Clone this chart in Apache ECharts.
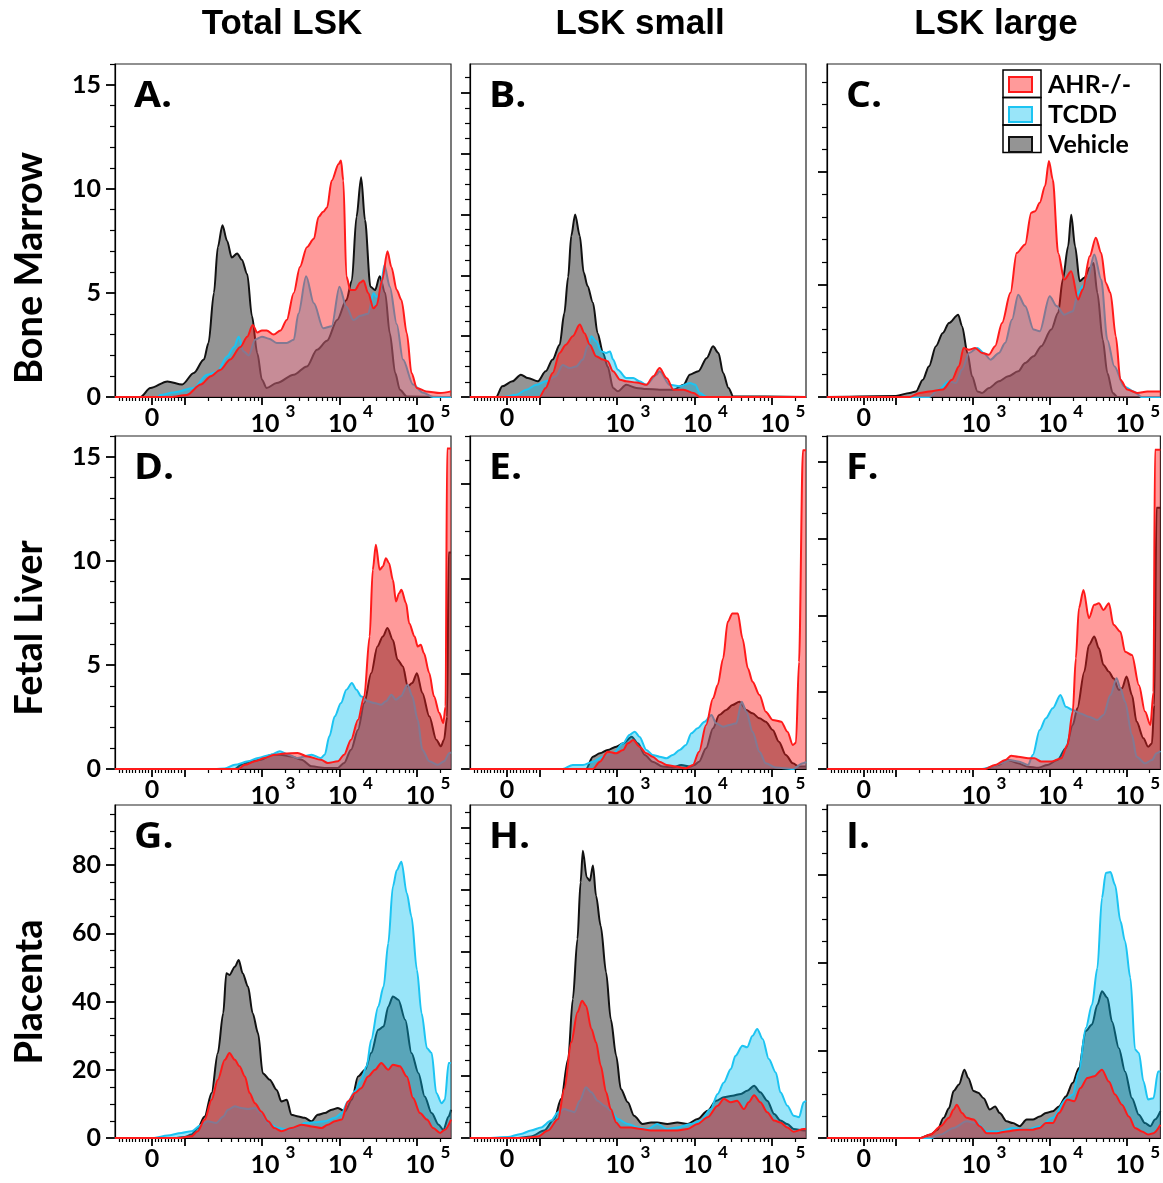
<!DOCTYPE html>
<html><head><meta charset="utf-8">
<script src="https://cdn.jsdelivr.net/npm/echarts@6/dist/echarts.min.js"></script>
<style>html,body{margin:0;padding:0;background:#fff}#c{width:1163px;height:1183px}</style>
</head><body><div id="c"></div>
<script>
// ---------------- DATA (x in logicle display units: 3 = 10^3, 4 = 10^4, 5 = 10^5) ----------------
const colTitles = ['Total LSK', 'LSK small', 'LSK large'];
const rowTitles = ['Bone Marrow', 'Fetal Liver', 'Placenta'];
const panelLetters = ['A.', 'B.', 'C.', 'D.', 'E.', 'F.', 'G.', 'H.', 'I.'];
const seriesNames = ['Vehicle', 'TCDD', 'AHR-/-'];
const legendOrder = ['AHR-/-', 'TCDD', 'Vehicle'];

// x tick values (fluorescence intensity)
const xMajorTicks = [0, 100, 1000, 10000, 100000];
const xMinorTicks = [-100,-90,-80,-70,-60,-50,-40,-30,-20,-10,10,20,30,40,50,60,70,80,90,
  200,300,400,500,600,700,800,900,2000,3000,4000,5000,6000,7000,8000,9000,
  20000,30000,40000,50000,60000,70000,80000,90000,200000];
const xLabelTicks = [0, 1000, 10000, 100000];

// y scales per panel (A..I)
const yMaxes = [16, 21.9, 14.8, 16, 14.0, 13.0, 97.6, 107.2, 76.0];
const yMajorSteps = [5, 4, 5, 5, 4, 3, 20, 20, 20];
const yMinorSteps = [1, 1, 1, 1, 1, 1, 5, 5, 5];
const yLabelled = [true, false, false, true, false, false, true, false, false];

// Panel A
const vehicleA = [[1.10,0],[1.43,0],[1.56,0.43],[1.78,0.75],[1.97,0.6],[2.12,1.15],[2.25,1.8],[2.31,2.6],[2.38,5.0],[2.43,7.2],[2.49,8.25],[2.55,7.5],[2.61,6.7],[2.68,6.9],[2.74,6.6],[2.81,5.9],[2.87,3.9],[2.94,2.1],[3.0,0.83],[3.06,0.43],[3.19,0.67],[3.41,1.07],[3.58,1.47],[3.71,2.27],[3.84,2.7],[3.97,3.7],[4.09,4.66],[4.16,5.6],[4.22,8.65],[4.28,10.56],[4.33,8.5],[4.40,5.3],[4.46,5.14],[4.52,5.8],[4.59,5.0],[4.65,3.06],[4.72,1.15],[4.78,0.35],[4.87,0.03],[5.44,0]];
const tcddA = [[1.10,0],[1.65,0],[1.69,0.1],[1.86,0.22],[2.12,0.43],[2.29,1.07],[2.42,1.2],[2.55,1.95],[2.64,2.4],[2.70,2.9],[2.76,2.2],[2.83,2.0],[2.91,2.75],[3.0,2.9],[3.09,2.8],[3.19,2.6],[3.32,2.6],[3.41,2.75],[3.47,4.0],[3.57,5.8],[3.67,4.5],[3.79,3.3],[3.90,3.4],[4.0,5.3],[4.09,4.34],[4.18,3.7],[4.27,3.9],[4.37,4.0],[4.44,5.0],[4.48,4.8],[4.52,4.9],[4.58,6.33],[4.65,5.3],[4.74,3.5],[4.82,1.8],[4.95,0.6],[5.08,0.2],[5.21,0],[5.44,0]];
const ahrA = [[1.10,0],[1.82,0],[2.03,0.1],[2.21,0.6],[2.34,1.0],[2.46,1.3],[2.59,1.8],[2.72,2.4],[2.81,2.9],[2.88,3.46],[2.94,3.1],[3.0,3.2],[3.06,3.2],[3.15,3.0],[3.24,3.2],[3.32,3.7],[3.41,5.0],[3.49,6.25],[3.58,7.2],[3.67,7.6],[3.73,8.65],[3.79,8.9],[3.84,9.1],[3.90,10.4],[3.99,11.2],[4.02,11.36],[4.05,10.4],[4.09,5.8],[4.14,5.14],[4.20,5.14],[4.27,5.5],[4.31,5.6],[4.37,5.0],[4.44,4.26],[4.48,4.4],[4.55,5.6],[4.62,7.0],[4.67,6.25],[4.74,5.14],[4.80,4.66],[4.87,3.06],[4.93,1.15],[5.0,0.43],[5.12,0.27],[5.30,0.19],[5.44,0.27]];

// Panel B
const vehicleB = [[1.10,0],[1.44,0],[1.52,0.7],[1.65,1.03],[1.76,1.47],[1.85,1.25],[1.98,1.03],[2.08,1.69],[2.17,2.46],[2.26,3.44],[2.32,5.5],[2.37,7.9],[2.41,10.6],[2.46,12.0],[2.52,10.6],[2.57,8.2],[2.62,7.3],[2.69,6.2],[2.75,4.2],[2.82,2.9],[2.88,2.0],[2.95,0.6],[3.01,0.37],[3.12,0.8],[3.25,0.6],[3.38,0.53],[3.55,0.48],[3.73,0.48],[3.86,0.8],[3.94,1.47],[4.05,1.69],[4.16,2.57],[4.24,3.33],[4.31,2.9],[4.37,1.58],[4.44,0.6],[4.50,0.04],[5.44,0]];
const tcddB = [[1.10,0],[1.52,0],[1.70,0.15],[1.83,0.48],[1.96,0.8],[2.08,1.03],[2.21,1.36],[2.30,2.1],[2.39,1.9],[2.47,2.0],[2.56,2.46],[2.62,3.33],[2.67,4.0],[2.73,3.66],[2.80,3.0],[2.86,2.9],[2.91,3.0],[2.95,2.46],[3.01,1.8],[3.12,1.25],[3.21,1.25],[3.29,1.03],[3.38,0.8],[3.51,1.47],[3.55,1.7],[3.68,0.8],[3.81,0.7],[3.94,0.92],[4.01,0.8],[4.07,0.26],[4.16,0],[5.44,0]];
const ahrB = [[1.10,0],[2.0,0],[2.08,0.6],[2.17,1.58],[2.26,2.9],[2.34,3.44],[2.43,4.0],[2.52,4.76],[2.58,4.2],[2.65,3.44],[2.73,2.68],[2.82,2.46],[2.88,2.35],[2.95,1.69],[3.04,1.14],[3.12,1.03],[3.25,0.96],[3.38,0.8],[3.47,1.36],[3.55,1.9],[3.64,1.25],[3.73,0.48],[3.86,0.48],[3.99,0.26],[4.07,0],[5.44,0]];

// Panel C
const vehicleC = [[1.10,0],[2.0,0.05],[2.18,0.18],[2.26,0.25],[2.35,0.77],[2.43,1.37],[2.52,2.26],[2.61,2.85],[2.69,3.29],[2.81,3.66],[2.86,3.15],[2.93,1.96],[2.99,0.92],[3.06,0.25],[3.12,0.18],[3.21,0.4],[3.34,0.7],[3.46,0.92],[3.59,1.14],[3.68,1.51],[3.79,1.81],[3.89,2.26],[4.02,3.0],[4.11,3.74],[4.17,5.22],[4.24,6.7],[4.28,8.1],[4.33,6.7],[4.39,5.15],[4.45,5.3],[4.52,5.74],[4.57,5.96],[4.62,4.63],[4.69,2.55],[4.75,1.07],[4.82,0.18],[4.88,0],[5.44,0]];
const tcddC = [[1.10,0],[2.43,0],[2.56,0.33],[2.69,0.7],[2.78,0.62],[2.86,1.22],[2.95,1.96],[3.06,2.18],[3.14,1.96],[3.23,1.66],[3.34,1.96],[3.42,2.4],[3.51,3.44],[3.59,4.55],[3.68,4.04],[3.79,3.0],[3.87,2.92],[4.0,4.48],[4.09,4.04],[4.19,3.66],[4.30,3.81],[4.37,4.63],[4.43,4.93],[4.49,5.22],[4.58,6.33],[4.67,5.22],[4.75,2.55],[4.84,1.37],[4.97,0.47],[5.09,0.25],[5.20,0],[5.44,0]];
const ahrC = [[1.10,0],[2.18,0],[2.31,0.18],[2.43,0.25],[2.61,0.33],[2.73,0.77],[2.82,1.37],[2.88,2.18],[2.95,2.1],[3.03,2.18],[3.12,1.96],[3.21,1.88],[3.29,2.26],[3.38,3.29],[3.49,4.63],[3.57,6.4],[3.68,6.78],[3.76,8.19],[3.81,8.26],[3.87,8.63],[3.94,9.38],[3.99,10.49],[4.04,9.67],[4.11,6.4],[4.19,5.22],[4.28,5.59],[4.37,4.33],[4.43,4.78],[4.52,6.26],[4.60,7.08],[4.67,6.4],[4.73,5.07],[4.79,4.63],[4.86,2.7],[4.92,0.77],[5.01,0.33],[5.14,0.18],[5.27,0.25],[5.44,0.25]];

// Panel D
const vehicleD = [[1.10,0],[2.65,0],[2.73,0.2],[2.86,0.37],[2.99,0.45],[3.12,0.69],[3.23,0.69],[3.38,0.6],[3.51,0.45],[3.64,0.13],[3.81,0.05],[3.98,0.05],[4.06,0.29],[4.15,0.93],[4.24,1.89],[4.32,3.17],[4.41,4.6],[4.49,5.89],[4.56,6.37],[4.62,6.77],[4.69,6.2],[4.75,5.25],[4.82,4.93],[4.88,3.97],[4.94,4.13],[5.0,4.6],[5.07,3.65],[5.16,2.53],[5.25,1.41],[5.31,1.09],[5.35,1.41],[5.39,2.5],[5.41,10.4],[5.44,10.4]];
const tcddD = [[1.10,0],[2.39,0],[2.52,0.02],[2.65,0.2],[2.82,0.37],[2.95,0.53],[3.12,0.69],[3.23,0.85],[3.34,0.69],[3.46,0.53],[3.64,0.69],[3.76,0.53],[3.81,0.69],[3.87,1.57],[3.94,2.53],[4.02,3.17],[4.09,3.81],[4.16,4.13],[4.22,3.81],[4.28,3.49],[4.37,3.25],[4.45,3.17],[4.54,3.09],[4.60,3.25],[4.67,3.57],[4.73,3.33],[4.79,3.49],[4.88,4.05],[4.94,3.49],[5.01,2.37],[5.07,0.93],[5.16,0.37],[5.27,0.2],[5.35,0.37],[5.42,0.77],[5.44,0.8]];
const ahrD = [[1.10,0],[2.69,0],[2.78,0.2],[2.91,0.37],[3.03,0.53],[3.16,0.69],[3.29,0.74],[3.46,0.77],[3.59,0.6],[3.76,0.45],[3.85,0.29],[3.98,0.37],[4.06,0.69],[4.15,1.41],[4.24,2.37],[4.32,3.49],[4.39,6.37],[4.43,9.57],[4.47,10.77],[4.52,9.57],[4.56,9.73],[4.60,10.13],[4.64,9.89],[4.69,9.09],[4.73,8.05],[4.77,8.45],[4.80,8.61],[4.86,7.97],[4.90,7.0],[4.97,6.37],[5.01,5.89],[5.05,5.97],[5.09,5.57],[5.16,4.6],[5.22,3.49],[5.29,2.69],[5.34,2.21],[5.37,3.0],[5.39,15.4],[5.44,15.4]];

// Panel E
const vehicleE = [[1.10,0],[2.60,0],[2.69,0.52],[2.78,0.66],[2.88,0.8],[2.99,0.94],[3.08,1.08],[3.19,1.36],[3.27,1.08],[3.36,0.59],[3.46,0.31],[3.59,0.1],[3.72,0.06],[3.83,0.17],[3.94,0.1],[4.0,0.17],[4.06,0.31],[4.15,0.87],[4.24,1.71],[4.32,2.27],[4.41,2.48],[4.49,2.69],[4.58,2.83],[4.67,2.48],[4.75,2.34],[4.84,2.13],[4.92,1.99],[5.01,1.64],[5.09,1.15],[5.18,0.59],[5.27,0.24],[5.35,0.1],[5.44,0.1]];
const tcddE = [[1.10,0],[2.30,0],[2.43,0.17],[2.56,0.17],[2.69,0.31],[2.82,0.52],[2.95,0.66],[3.08,1.08],[3.16,1.43],[3.23,1.57],[3.29,1.36],[3.38,0.8],[3.46,0.59],[3.55,0.52],[3.64,0.45],[3.72,0.59],[3.81,0.8],[3.89,1.01],[3.96,1.5],[4.04,1.71],[4.13,1.99],[4.22,2.27],[4.28,1.92],[4.37,1.78],[4.45,1.85],[4.54,1.92],[4.61,2.83],[4.67,2.41],[4.75,1.57],[4.84,0.73],[4.92,0.24],[5.05,0.06],[5.27,0],[5.40,0.24],[5.44,0.3]];
const ahrE = [[1.10,0],[2.69,0],[2.78,0.31],[2.88,0.73],[2.99,0.66],[3.08,0.8],[3.14,1.08],[3.21,1.22],[3.29,0.94],[3.38,0.66],[3.46,0.52],[3.55,0.31],[3.64,0.17],[3.76,0.1],[3.89,0.03],[3.98,0.17],[4.06,0.73],[4.15,1.85],[4.24,2.97],[4.30,3.53],[4.37,4.65],[4.43,6.19],[4.49,6.54],[4.56,6.54],[4.62,5.49],[4.69,4.23],[4.75,3.67],[4.84,3.11],[4.92,2.41],[5.01,2.06],[5.12,1.99],[5.20,1.57],[5.27,1.01],[5.31,1.1],[5.35,4.5],[5.40,13.4],[5.44,13.4]];

// Panel F
const vehicleF = [[1.10,0],[3.16,0],[3.33,0.16],[3.46,0.35],[3.59,0.22],[3.72,0.09],[3.85,0.05],[3.97,0.16],[4.10,0.35],[4.21,0.81],[4.30,1.72],[4.36,2.37],[4.45,3.8],[4.51,4.84],[4.58,5.17],[4.64,4.71],[4.70,4.06],[4.77,3.8],[4.83,3.54],[4.90,3.09],[4.94,3.15],[5.0,3.61],[5.07,2.89],[5.13,1.85],[5.22,1.2],[5.28,0.87],[5.33,1.0],[5.36,2.5],[5.39,10.2],[5.44,10.2]];
const tcddF = [[1.10,0],[3.12,0],[3.25,0.09],[3.37,0.22],[3.48,0.35],[3.59,0.29],[3.72,0.16],[3.78,0.55],[3.87,1.52],[3.95,1.98],[4.04,2.37],[4.14,2.89],[4.21,2.43],[4.30,2.3],[4.40,2.17],[4.51,2.04],[4.62,1.91],[4.70,2.11],[4.79,2.89],[4.87,3.54],[4.92,3.15],[4.98,2.63],[5.07,1.33],[5.13,0.48],[5.24,0.22],[5.33,0.35],[5.39,0.61],[5.44,0.7]];
const ahrF = [[1.10,0],[3.16,0],[3.29,0.16],[3.42,0.35],[3.50,0.52],[3.59,0.48],[3.72,0.42],[3.80,0.42],[3.89,0.29],[4.02,0.29],[4.15,0.42],[4.23,0.94],[4.30,2.24],[4.34,4.32],[4.38,6.28],[4.44,6.99],[4.51,5.89],[4.58,6.41],[4.64,6.47],[4.70,6.21],[4.77,6.47],[4.83,5.63],[4.92,5.36],[4.98,4.58],[5.07,4.45],[5.16,3.28],[5.24,2.24],[5.31,1.72],[5.35,3.0],[5.37,12.46],[5.44,12.46]];

// Panel G
const vehicleG = [[1.10,0],[1.87,0],[2.0,0.3],[2.09,1.0],[2.17,2.9],[2.26,6.3],[2.35,13.2],[2.43,24.9],[2.50,36.6],[2.54,48.3],[2.58,47.8],[2.65,50.2],[2.70,52.2],[2.75,48.3],[2.82,44.4],[2.88,36.6],[2.95,30.7],[3.01,19.0],[3.10,17.1],[3.19,14.1],[3.25,10.7],[3.32,11.2],[3.38,6.8],[3.47,6.3],[3.55,5.9],[3.64,4.9],[3.72,6.8],[3.81,7.3],[3.90,8.3],[3.98,8.8],[4.07,7.8],[4.16,11.2],[4.24,18.0],[4.33,20.0],[4.41,24.9],[4.50,31.7],[4.57,32.7],[4.63,38.5],[4.69,41.5],[4.76,40.5],[4.85,34.6],[4.93,24.9],[5.02,19.0],[5.10,12.2],[5.19,7.3],[5.28,3.9],[5.34,2.4],[5.41,6.3],[5.44,8.3]];
const tcddG = [[1.10,0],[1.61,0],[1.78,0.7],[1.96,1.5],[2.09,2.0],[2.22,3.9],[2.30,4.9],[2.41,4.4],[2.50,6.3],[2.56,8.3],[2.65,9.3],[2.73,8.8],[2.82,8.5],[2.91,8.8],[2.99,7.3],[3.08,4.4],[3.21,2.9],[3.34,2.4],[3.47,3.4],[3.55,4.4],[3.68,4.6],[3.81,4.9],[3.94,5.9],[4.03,7.3],[4.11,10.7],[4.20,13.7],[4.28,17.1],[4.35,21.0],[4.41,28.8],[4.50,38.5],[4.57,44.4],[4.63,57.1],[4.69,73.7],[4.74,78.5],[4.80,81.0],[4.87,71.7],[4.93,64.9],[5.0,49.3],[5.06,36.6],[5.13,26.3],[5.19,24.9],[5.25,13.2],[5.32,10.2],[5.36,11.2],[5.41,22.0],[5.44,22.0]];
const ahrG = [[1.10,0],[1.91,0],[2.09,0.5],[2.17,2.0],[2.26,5.4],[2.35,11.2],[2.43,17.1],[2.52,22.9],[2.58,24.9],[2.65,22.9],[2.71,21.0],[2.78,18.0],[2.84,13.2],[2.91,10.2],[2.99,7.8],[3.08,4.9],[3.16,2.9],[3.25,2.0],[3.38,2.9],[3.51,3.9],[3.64,3.4],[3.77,2.9],[3.85,3.9],[3.94,4.9],[4.03,5.4],[4.11,10.7],[4.20,13.2],[4.28,14.6],[4.37,18.0],[4.46,20.0],[4.54,22.0],[4.63,20.0],[4.69,21.5],[4.78,21.0],[4.87,18.0],[4.95,11.7],[5.04,7.3],[5.13,5.4],[5.21,2.9],[5.30,1.5],[5.36,2.4],[5.44,5.4]];

// Panel H
const vehicleH = [[1.10,0],[1.72,0],[1.89,0.5],[2.06,2.4],[2.19,6.1],[2.28,12.6],[2.37,25.4],[2.43,44.7],[2.49,64.1],[2.53,82.3],[2.56,92.5],[2.61,83.9],[2.65,82.8],[2.69,87.7],[2.73,78.0],[2.79,68.3],[2.86,53.3],[2.92,38.3],[2.99,26.5],[3.05,15.8],[3.14,11.5],[3.22,7.2],[3.33,4.5],[3.44,5.0],[3.52,5.0],[3.65,4.5],[3.78,5.0],[3.91,4.5],[4.04,6.1],[4.17,8.8],[4.28,12.0],[4.38,13.1],[4.49,13.6],[4.60,14.2],[4.68,15.2],[4.77,16.8],[4.85,14.7],[4.94,12.0],[5.03,7.7],[5.11,5.6],[5.20,4.5],[5.28,2.9],[5.41,2.4],[5.44,2.4]];
const tcddH = [[1.10,0],[1.34,0],[1.59,0.3],[1.76,1.3],[1.89,2.4],[2.02,3.4],[2.15,5.6],[2.24,8.3],[2.32,9.3],[2.39,8.8],[2.45,8.3],[2.52,12.0],[2.60,16.3],[2.67,14.7],[2.75,12.0],[2.84,10.4],[2.92,8.8],[3.01,6.1],[3.14,4.5],[3.27,3.4],[3.40,2.9],[3.52,4.5],[3.65,2.9],[3.78,3.4],[3.95,4.5],[4.08,5.6],[4.21,9.3],[4.30,14.2],[4.38,17.9],[4.47,22.2],[4.53,26.5],[4.62,29.7],[4.68,29.2],[4.75,32.9],[4.81,35.1],[4.88,31.9],[4.96,25.4],[5.05,21.1],[5.11,14.7],[5.20,10.4],[5.28,7.2],[5.35,6.7],[5.41,11.5],[5.44,12.0]];
const ahrH = [[1.10,0],[1.81,0],[1.98,0.5],[2.11,2.4],[2.24,6.1],[2.32,15.8],[2.41,30.8],[2.49,40.5],[2.55,44.2],[2.60,42.6],[2.67,35.1],[2.73,30.8],[2.79,23.3],[2.86,14.7],[2.92,9.3],[2.99,5.0],[3.05,3.4],[3.18,3.4],[3.31,2.9],[3.44,2.4],[3.61,2.4],[3.78,2.4],[3.91,2.9],[4.04,4.5],[4.17,6.7],[4.30,10.4],[4.38,12.6],[4.47,11.5],[4.55,12.0],[4.64,9.3],[4.70,11.5],[4.77,13.8],[4.85,11.5],[4.94,8.3],[5.03,5.6],[5.11,5.0],[5.20,3.4],[5.28,2.0],[5.41,2.9],[5.44,3.0]];

// Panel I
const vehicleI = [[1.10,0],[2.32,0],[2.45,0.8],[2.54,1.9],[2.62,4.6],[2.69,6.8],[2.75,10.7],[2.82,12.2],[2.89,15.6],[2.94,13.7],[3.01,10.7],[3.07,10.3],[3.14,9.1],[3.22,6.5],[3.29,7.2],[3.35,5.7],[3.44,3.8],[3.52,3.4],[3.61,2.7],[3.70,4.2],[3.78,4.2],[3.87,4.9],[3.95,5.7],[4.04,6.1],[4.12,7.2],[4.21,9.5],[4.30,12.6],[4.38,16.0],[4.47,24.4],[4.55,25.9],[4.62,30.4],[4.68,33.5],[4.75,32.0],[4.81,26.6],[4.90,20.5],[4.98,15.2],[5.07,9.1],[5.16,5.3],[5.24,3.4],[5.31,2.7],[5.37,4.2],[5.44,6.1]];
const tcddI = [[1.10,0],[2.45,0],[2.58,0.8],[2.75,2.3],[2.92,3.8],[3.05,3.4],[3.18,1.5],[3.35,1.5],[3.52,2.3],[3.70,1.9],[3.87,2.7],[4.04,4.6],[4.21,8.8],[4.30,9.9],[4.38,15.2],[4.47,25.1],[4.55,30.4],[4.62,38.8],[4.68,54.8],[4.73,60.5],[4.79,60.7],[4.85,57.8],[4.92,49.5],[4.98,44.9],[5.05,36.5],[5.11,20.2],[5.16,19.4],[5.22,12.9],[5.28,8.8],[5.35,9.1],[5.41,15.2],[5.44,15.2]];
const ahrI = [[1.10,0],[2.32,0],[2.45,0.8],[2.58,2.7],[2.69,4.6],[2.75,6.5],[2.79,7.6],[2.86,5.7],[2.92,4.6],[3.01,4.2],[3.09,2.7],[3.18,1.1],[3.31,1.1],[3.44,1.5],[3.61,1.9],[3.78,1.9],[3.87,2.3],[3.95,3.4],[4.04,3.4],[4.12,5.7],[4.23,8.8],[4.32,8.4],[4.40,11.4],[4.49,13.7],[4.58,14.1],[4.68,15.6],[4.77,12.9],[4.85,9.9],[4.94,7.6],[5.03,4.9],[5.11,2.3],[5.20,1.5],[5.28,0.8],[5.35,1.1],[5.44,3.0]];

const vehicleData = [vehicleA, vehicleB, vehicleC, vehicleD, vehicleE, vehicleF, vehicleG, vehicleH, vehicleI];
const tcddData = [tcddA, tcddB, tcddC, tcddD, tcddE, tcddF, tcddG, tcddH, tcddI];
const ahrData = [ahrA, ahrB, ahrC, ahrD, ahrE, ahrF, ahrG, ahrH, ahrI];

// ---------------- LAYOUT / STYLE ----------------
const X_MIN = 1.103, X_MAX = 5.44, ZERO_POS = 1.58;
const colLeft = [115, 470, 827];
const rowTop = [64, 436, 805];
const GRID_W = 336, GRID_H = 333;
const FONT = 'Lato';

function toDisplay(v) { return v >= 100 ? Math.log10(v) : ZERO_POS + (2 - ZERO_POS) * v / 100; }
function range(step, max) { const out = []; for (let v = 0; v <= max + 1e-9; v += step) out.push(+v.toFixed(6)); return out; }

const colors = {
  'Vehicle': { line: '#111111', area: 'rgba(0,0,0,0.42)' },
  'TCDD': { line: '#1cc4f2', area: 'rgba(0,190,240,0.40)' },
  'AHR-/-': { line: '#ff1a1a', area: 'rgba(255,30,30,0.45)' }
};

const grids = [], xAxes = [], yAxes = [], series = [], graphics = [];
const xMajorDisp = xMajorTicks.map(toDisplay);
const xMinorDisp = xMinorTicks.map(toDisplay);
const xLabelDisp = xLabelTicks.map(toDisplay);

function xLabelFormatter(val) {
  const idx = xLabelDisp.findIndex(d => Math.abs(d - val) < 1e-6);
  const v = idx >= 0 ? xLabelTicks[idx] : null;
  if (v === 0) return '{z|0}';
  if (v == null) return '';
  return '{b|10}{e|' + Math.round(Math.log10(v)) + '}';
}
const labelRich = {
  z: { fontSize: 25, fontWeight: 'bold', fontFamily: FONT, color: '#000', padding: [2, 0, 0, 0] },
  b: { fontSize: 25, fontWeight: 'bold', fontFamily: FONT, color: '#000', padding: [0, 0, 0, 22], verticalAlign: 'bottom' },
  e: { fontSize: 17, fontWeight: 'bold', fontFamily: FONT, color: '#000', padding: [0, 0, 16, 6], verticalAlign: 'top' }
};

for (let p = 0; p < 9; p++) {
  const r = Math.floor(p / 3), c = p % 3;
  grids.push({ left: colLeft[c], top: rowTop[r], width: GRID_W, height: GRID_H, show: true,
    borderColor: '#222', borderWidth: 1.2, backgroundColor: 'transparent', containLabel: false });
  xAxes.push({ gridIndex: p, type: 'value', min: X_MIN, max: X_MAX, position: 'bottom',
    axisLine: { show: true, onZero: false, lineStyle: { color: '#000', width: 1.2 } },
    axisTick: { show: true, customValues: xMajorDisp, length: 8, lineStyle: { color: '#000', width: 1.8 } },
    axisLabel: { show: true, customValues: xLabelDisp, formatter: xLabelFormatter, margin: 6, rich: labelRich },
    splitLine: { show: false } });
  xAxes.push({ gridIndex: p, type: 'value', min: X_MIN, max: X_MAX, position: 'bottom',
    axisLine: { show: false, onZero: false },
    axisTick: { show: true, customValues: xMinorDisp, length: 4, lineStyle: { color: '#000', width: 1.2 } },
    axisLabel: { show: false }, splitLine: { show: false } });
  const majors = range(yMajorSteps[p], yMaxes[p]);
  const minors = range(yMinorSteps[p], yMaxes[p]).filter(v => !majors.some(m => Math.abs(m - v) < 1e-6));
  yAxes.push({ gridIndex: p, type: 'value', min: 0, max: yMaxes[p], position: 'left',
    axisLine: { show: true, onZero: false, lineStyle: { color: '#000', width: 1.2 } },
    axisTick: { show: true, customValues: majors, length: 9, lineStyle: { color: '#000', width: 1.8 } },
    axisLabel: { show: yLabelled[p], customValues: majors.filter(v => v < yMaxes[p] - 0.5), margin: 14,
      fontSize: 25, fontWeight: 'bold', fontFamily: FONT, color: '#000' },
    splitLine: { show: false } });
  yAxes.push({ gridIndex: p, type: 'value', min: 0, max: yMaxes[p], position: 'left',
    axisLine: { show: false, onZero: false },
    axisTick: { show: true, customValues: minors, length: 5, lineStyle: { color: '#000', width: 1.2 } },
    axisLabel: { show: false }, splitLine: { show: false } });

  const sets = [vehicleData[p], tcddData[p], ahrData[p]];
  seriesNames.forEach((name, k) => {
    series.push({ name, type: 'line', xAxisIndex: 2 * p, yAxisIndex: 2 * p, data: sets[k],
      showSymbol: false, symbol: 'none', smooth: 0.3, smoothMonotone: 'x', clip: true, silent: true,
      lineStyle: { color: colors[name].line, width: 2 },
      itemStyle: { color: colors[name].line },
      areaStyle: { color: colors[name].area, opacity: 1, origin: 'start' },
      z: 2 + k });
  });

  graphics.push({ type: 'text', x: colLeft[c] + 19, y: rowTop[r] + 33, scaleX: 1.12,
    style: { text: panelLetters[p], fontSize: 35, fontWeight: 'bold', fontFamily: 'Open Sans', fill: '#000',
      textAlign: 'left', textVerticalAlign: 'middle', align: 'left', verticalAlign: 'middle' }, z: 100 });
}

const colCenters = [282, 640, 996];
colTitles.forEach((t, i) => graphics.push({ type: 'text', x: colCenters[i], y: 24,
  style: { text: t, fontSize: 35, fontWeight: 'bold', fontFamily: 'Liberation Sans', fill: '#000',
    textAlign: 'center', textVerticalAlign: 'middle', align: 'center', verticalAlign: 'middle' } }));
const rowCenters = [268, 628, 992];
rowTitles.forEach((t, i) => graphics.push({ type: 'text', x: 30, y: rowCenters[i], rotation: Math.PI / 2,
  style: { text: t, fontSize: 38, fontWeight: 'bold', fontFamily: FONT, fill: '#000',
    textAlign: 'center', textVerticalAlign: 'middle', align: 'center', verticalAlign: 'middle' } }));
[70, 97.5, 125].forEach(y => graphics.push({ type: 'rect', shape: { x: 1003, y: y, width: 38, height: 27.5 },
  style: { fill: 'none', stroke: '#000', lineWidth: 1.5 }, z: 90 }));

const chart = echarts.init(document.getElementById('c'), null, { renderer: 'canvas' });
chart.setOption({
  animation: false,
  backgroundColor: '#fff',
  grid: grids, xAxis: xAxes, yAxis: yAxes, series,
  legend: { orient: 'vertical', left: 1008, top: 72, itemWidth: 23, itemHeight: 15, itemGap: 5, z: 95,
    icon: 'rect', selectedMode: false, padding: 0,
    textStyle: { fontFamily: FONT, fontWeight: 'bold', fontSize: 25, color: '#000', lineHeight: 23.5, padding: [0, 0, 0, 11] },
    data: legendOrder.map(n => ({ name: n, itemStyle: { color: colors[n].area, borderColor: colors[n].line, borderWidth: 2, opacity: 1 } })) },
  graphic: graphics
});
</script></body></html>
